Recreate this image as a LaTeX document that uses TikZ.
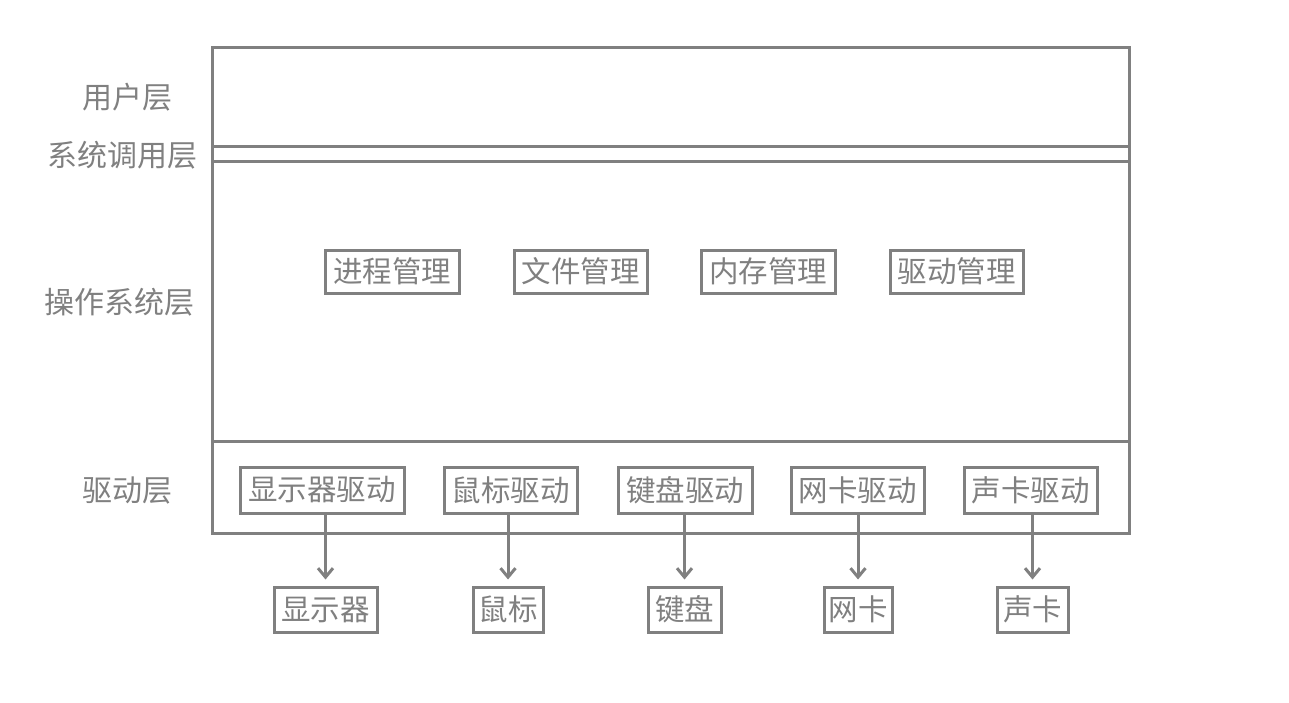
\documentclass[tikz,border=0pt]{standalone}
\usepackage{fontspec}
\newfontfamily\cjk{Noto Sans CJK SC}[FontFace={m}{n}{* Light}]
\usetikzlibrary{arrows.meta}
\definecolor{lg}{RGB}{128,128,128}
\tikzset{
  lbl/.style={font=\cjk\fontsize{30}{33}\selectfont, text=lg, inner sep=0},
  bx/.style={draw=lg, line width=3pt, font=\cjk\fontsize{29.5}{32}\selectfont, text=lg, inner sep=0, minimum height=43pt},
  arr/.style={draw=lg, line width=3pt, -{Straight Barb[length=9pt,width=15pt,line width=3pt]}, shorten >=6pt},
  ln/.style={draw=lg, line width=3pt}
}
\begin{document}
\begin{tikzpicture}[x=1pt,y=-1pt]
\useasboundingbox (0,0) rectangle (1289,703);
\coordinate (tl) at (212,48);
\coordinate (br) at (1129,533);
\draw[ln] (tl) rectangle (br);
\coordinate (a1) at (212,147); \coordinate (a2) at (1129,147);
\coordinate (b1) at (212,162); \coordinate (b2) at (1129,162);
\coordinate (c1) at (212,441); \coordinate (c2) at (1129,441);
\draw[ln] (a1) -- (a2);
\draw[ln] (b1) -- (b2);
\draw[ln] (c1) -- (c2);

\node[lbl] (l1) at (127,97) {用户层};
\node[lbl] (l2) at (122,155) {系统调用层};
\node[lbl] (l3) at (119,302) {操作系统层};
\node[lbl] (l4) at (127,490) {驱动层};

\node[bx, minimum width=134pt] (m1) at (392,271.5) {进程管理};
\node[bx, minimum width=133pt] (m2) at (580.5,271.5) {文件管理};
\node[bx, minimum width=134pt] (m3) at (768,271.5) {内存管理};
\node[bx, minimum width=133pt] (m4) at (956.5,271.5) {驱动管理};

\node[bx, minimum width=164pt, minimum height=46pt] (d1) at (322,490) {显示器驱动};
\node[bx, minimum width=133pt, minimum height=46pt] (d2) at (510.5,490) {鼠标驱动};
\node[bx, minimum width=134pt, minimum height=46pt] (d3) at (685,490) {键盘驱动};
\node[bx, minimum width=133pt, minimum height=46pt] (d4) at (857.5,490) {网卡驱动};
\node[bx, minimum width=133pt, minimum height=46pt] (d5) at (1030.5,490) {声卡驱动};

\node[bx, minimum width=103pt, minimum height=45pt] (e1) at (325.5,609.5) {显示器};
\node[bx, minimum width=70pt, minimum height=45pt] (e2) at (508,609.5) {鼠标};
\node[bx, minimum width=73pt, minimum height=45pt] (e3) at (684.5,609.5) {键盘};
\node[bx, minimum width=68pt, minimum height=45pt] (e4) at (858,609.5) {网卡};
\node[bx, minimum width=71pt, minimum height=45pt] (e5) at (1032.5,609.5) {声卡};

\draw[arr] (d1.south -| e1.north) -- (e1.north);
\draw[arr] (d2.south -| e2.north) -- (e2.north);
\draw[arr] (d3.south -| e3.north) -- (e3.north);
\draw[arr] (d4.south -| e4.north) -- (e4.north);
\draw[arr] (d5.south -| e5.north) -- (e5.north);
\end{tikzpicture}
\end{document}
